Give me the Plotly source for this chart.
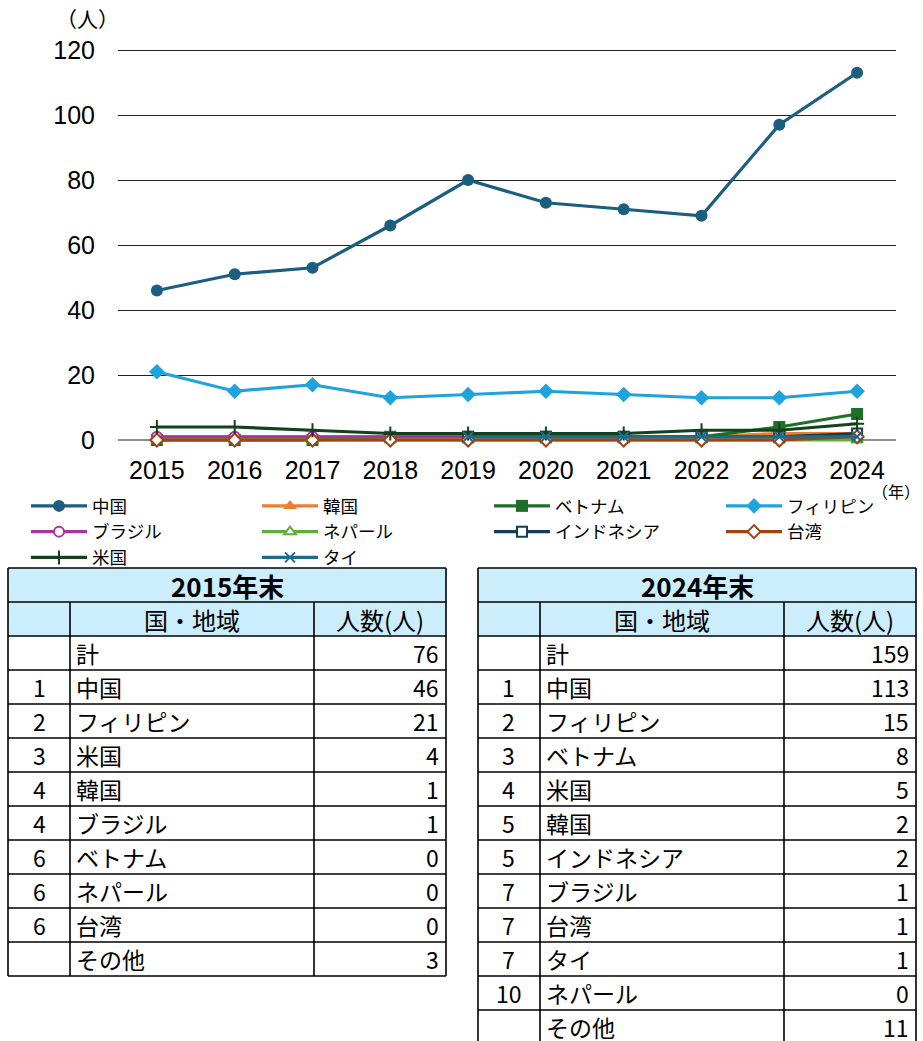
import plotly.graph_objects as go

# ---- chart data (people, year-end) ----
years = [2015, 2016, 2017, 2018, 2019, 2020, 2021, 2022, 2023, 2024]
series_names = ["中国", "韓国", "ベトナム", "フィリピン", "ブラジル",
                "ネパール", "インドネシア", "台湾", "米国", "タイ"]
china = [46, 51, 53, 66, 80, 73, 71, 69, 97, 113]
korea = [1, 1, 1, 1, 1, 1, 1, 1, 2, 2]
vietnam = [0, 0, 0, 1, 1, 1, 1, 1, 4, 8]
philippines = [21, 15, 17, 13, 14, 15, 14, 13, 13, 15]
brazil = [1, 1, 1, 1, 1, 1, 1, 1, 1, 1]
nepal = [0, 0, 0, 0, 0, 0, 0, 0, 0, 0]
indonesia = [None, None, None, None, 1, 1, 1, 1, 1, 2]
taiwan = [0, 0, 0, 0, 0, 0, 0, 0, 0, 1]
usa = [4, 4, 3, 2, 2, 2, 2, 3, 3, 5]
thailand = [None, None, None, None, 1, 1, 1, 1, 1, 1]
y_ticks = [0, 20, 40, 60, 80, 100, 120]

# ---- table data ----
t2015_title = "2015年末"
t2015_ranks = ["", "1", "2", "3", "4", "4", "6", "6", "6", ""]
t2015_names = ["計", "中国", "フィリピン", "米国", "韓国", "ブラジル",
               "ベトナム", "ネパール", "台湾", "その他"]
t2015_vals = [76, 46, 21, 4, 1, 1, 0, 0, 0, 3]

t2024_title = "2024年末"
t2024_ranks = ["", "1", "2", "3", "4", "5", "5", "7", "7", "7", "10", ""]
t2024_names = ["計", "中国", "フィリピン", "ベトナム", "米国", "韓国",
               "インドネシア", "ブラジル", "台湾", "タイ", "ネパール", "その他"]
t2024_vals = [159, 113, 15, 8, 5, 2, 2, 1, 1, 1, 0, 11]
table_headers = ["国・地域", "人数(人)"]

W, H = 923, 1041


def fx(px):
    return px / W


def fy(py):
    return 1 - py / H


# colour, marker symbol, marker fill, legend column
styles = [
    ("#1B5E80", "circle", "#1B5E80", "legend"),
    ("#ED7D31", "triangle-up", "#ED7D31", "legend2"),
    ("#1E7028", "square", "#1E7028", "legend3"),
    ("#1FA3DD", "diamond", "#1FA3DD", "legend4"),
    ("#A8359E", "circle", "white", "legend"),
    ("#5BAF3A", "triangle-up", "white", "legend2"),
    ("#123D56", "square", "white", "legend3"),
    ("#9E4413", "diamond", "white", "legend4"),
    ("#14401E", "cross-thin", "#14401E", "legend"),
    ("#1F6B8E", "x-thin", "#1F6B8E", "legend2"),
]
all_values = [china, korea, vietnam, philippines, brazil,
              nepal, indonesia, taiwan, usa, thailand]

fig = go.Figure()
for name, vals, (col, sym, fill, leg) in zip(series_names, all_values, styles):
    hollow = fill == "white"
    thin = sym.endswith("thin")
    fig.add_trace(go.Scatter(
        x=years, y=vals, name=name, mode="lines+markers", legend=leg,
        line=dict(color=col, width=3.2),
        marker=dict(symbol=sym, size=10 if (hollow or thin) else 12, color=fill,
                    line=dict(color=col, width=2 if (hollow or thin) else 0)),
        cliponaxis=False,
    ))

# y range extended slightly so the 0 line isn't clipped; 3.25 px per unit
ppu = 390 / 120
fig.update_yaxes(
    range=[-2, 122], domain=[fy(440 + 2 * ppu), fy(50 - 2 * ppu)],
    tickvals=y_ticks, showgrid=True, gridcolor="#222222", gridwidth=1,
    zeroline=True, zerolinecolor="#8C8C8C", zerolinewidth=2,
    showline=False, ticks="", ticklabelstandoff=22, automargin=False,
    tickfont=dict(family="Liberation Sans, Arial", size=25, color="black"),
)
fig.update_xaxes(
    range=[2014.5, 2024.5], domain=[fx(118), fx(896)],
    tickvals=years, showgrid=False, zeroline=False, showline=False, ticks="",
    ticklabelstandoff=6, automargin=False,
    tickfont=dict(family="Liberation Sans, Arial", size=25, color="black"),
)


def label(text, x, y, size, xanchor="center", bold=False):
    return dict(text=("<b>" + text + "</b>") if bold else text,
                x=fx(x), y=fy(y), xref="paper", yref="paper",
                xanchor=xanchor, yanchor="middle", showarrow=False,
                font=dict(family="Noto Sans CJK JP", size=size, color="black"))


annotations = [
    label("（人）", 87, 18, 21),
    label("（年）", 896, 491, 16),
]
shapes = []

row_h = 34
cell_size = 23


def draw_table(x0, title, ranks, names, vals):
    c = [x0, x0 + 62, x0 + 306, x0 + 438]
    top = 568
    light = "#CCEDFB"
    # title row and header row share a light-blue fill
    shapes.append(dict(type="rect", xref="paper", yref="paper",
                       x0=fx(c[0]), x1=fx(c[3]), y0=fy(top), y1=fy(top + 2 * row_h),
                       fillcolor=light, line=dict(width=0), layer="below"))
    annotations.append(label(title, (c[0] + c[3]) / 2, top + row_h / 2, 26, bold=True))
    for i, htxt in enumerate(table_headers):
        annotations.append(label(htxt, (c[i + 1] + c[i + 2]) / 2, top + row_h * 1.5, 24))
    n = len(names)
    bottom = top + row_h * (n + 2)
    for k in range(n):
        yc = top + row_h * (k + 2.5)
        if ranks[k]:
            annotations.append(label(ranks[k], (c[0] + c[1]) / 2, yc, cell_size))
        annotations.append(label(names[k], c[1] + 4, yc, cell_size, xanchor="left"))
        annotations.append(label(str(vals[k]), c[3] - 5, yc, cell_size, xanchor="right"))
    lw = 1.6
    for r in range(n + 3):
        yy = top + row_h * r
        shapes.append(dict(type="line", xref="paper", yref="paper",
                           x0=fx(c[0]), x1=fx(c[3]), y0=fy(yy), y1=fy(yy),
                           line=dict(color="black", width=lw)))
    for i, xx in enumerate(c):
        y_start = top if i in (0, 3) else top + row_h
        shapes.append(dict(type="line", xref="paper", yref="paper",
                           x0=fx(xx), x1=fx(xx), y0=fy(y_start), y1=fy(bottom),
                           line=dict(color="black", width=lw)))


draw_table(8, t2015_title, t2015_ranks, t2015_names, t2015_vals)
draw_table(478, t2024_title, t2024_ranks, t2024_names, t2024_vals)

legend_font = dict(family="Noto Sans CJK JP", size=17.5, color="black")


def legend_box(xpx):
    return dict(orientation="v", x=fx(xpx), y=fy(488), xanchor="left", yanchor="top",
                itemwidth=56, font=legend_font, bgcolor="rgba(0,0,0,0)",
                tracegroupgap=0)


fig.update_layout(
    width=W, height=H, margin=dict(l=0, r=0, t=0, b=0, autoexpand=False),
    paper_bgcolor="white", plot_bgcolor="white",
    showlegend=True,
    legend=legend_box(26), legend2=legend_box(257),
    legend3=legend_box(489), legend4=legend_box(721),
    annotations=annotations, shapes=shapes,
)

fig.write_html("out.html")
